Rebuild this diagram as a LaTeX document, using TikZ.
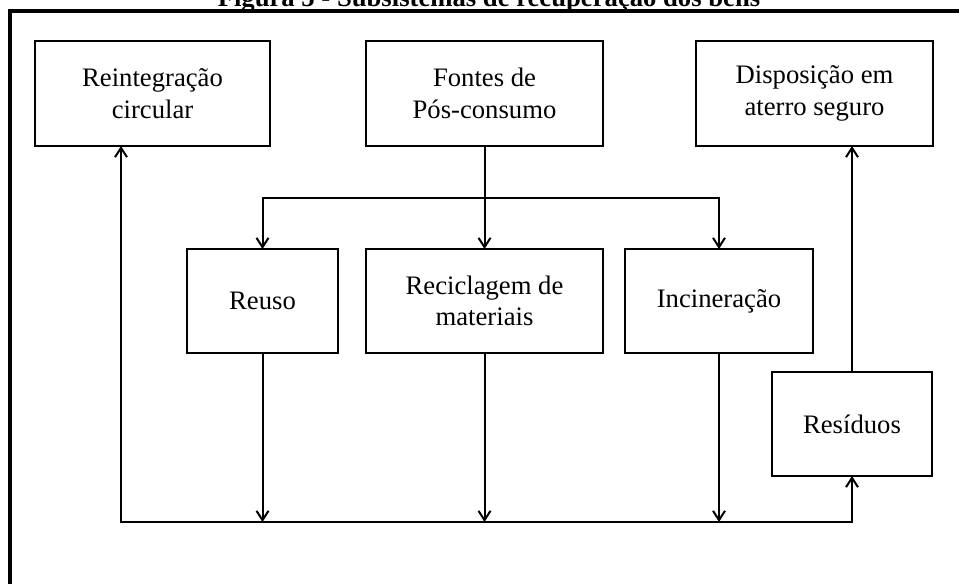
\documentclass[tikz,border=0pt]{standalone}
\usepackage{fontspec}
\setmainfont{Liberation Serif}
\usetikzlibrary{positioning,arrows.meta}

\begin{document}
\begin{tikzpicture}[
  x=0.75pt, y=-0.75pt,
  >={Straight Barb[length=7pt,width=9pt]},
  box/.style={draw, line width=1.5pt, inner sep=0pt, outer sep=0pt, minimum height=78pt, align=center, font=\fontsize{20}{23.5}\selectfont},
  arr/.style={->, line width=1.5pt},
  darr/.style={<->, line width=1.5pt},
]
\useasboundingbox (0,0) rectangle (959,584);

% Frame and title
\draw[line width=3pt] (10,11) rectangle (980,600);
\node[anchor=base, font=\fontsize{20}{24}\selectfont\bfseries] (title) at (489,7) {Figura 5 - Subsistemas de recuperação dos bens};

% Top row
\node[box, minimum width=177.75pt, minimum height=78.75pt] (fontes) at (484.5,93.5) {Fontes de\\Pós-consumo};
\node[box, minimum width=176.25pt, minimum height=78.75pt, left=72pt of fontes] (reint) {Reintegração\\circular};
\node[box, minimum width=177.75pt, minimum height=78.75pt, right=69.75pt of fontes] (disp) {Disposição em\\aterro seguro};

% Middle row
\node[box, minimum width=177.75pt, below=77.25pt of fontes] (recic) {Reciclagem de\\materiais};
\node[box, minimum width=113.25pt, left=21pt of recic] (reuso) {Reuso};
\node[box, minimum width=141pt, right=16.5pt of recic] (incin) {Incineração};
\node[box, minimum width=120pt] (resid) at (852,424) {Resíduos};

% Branch points
\coordinate (fork) at ([yshift=-39pt]fontes.south);
\coordinate (base) at (121,522);

% Arrows from the sources
\draw[arr] (fontes.south) -- (recic.north);
\draw[darr] (reuso.north) |- (fork) -| (incin.north);

% Arrows to the collecting line
\draw[arr] (reuso.south) -- (reuso.south |- base);
\draw[arr] (recic.south) -- (recic.south |- base);
\draw[arr] (incin.south) -- (incin.south |- base);
\draw[darr] (base |- reint.south) -- (base) -| (resid.south);

% Residue to landfill
\draw[arr] (resid.north) -- (resid.north |- disp.south);

\end{tikzpicture}
\end{document}
